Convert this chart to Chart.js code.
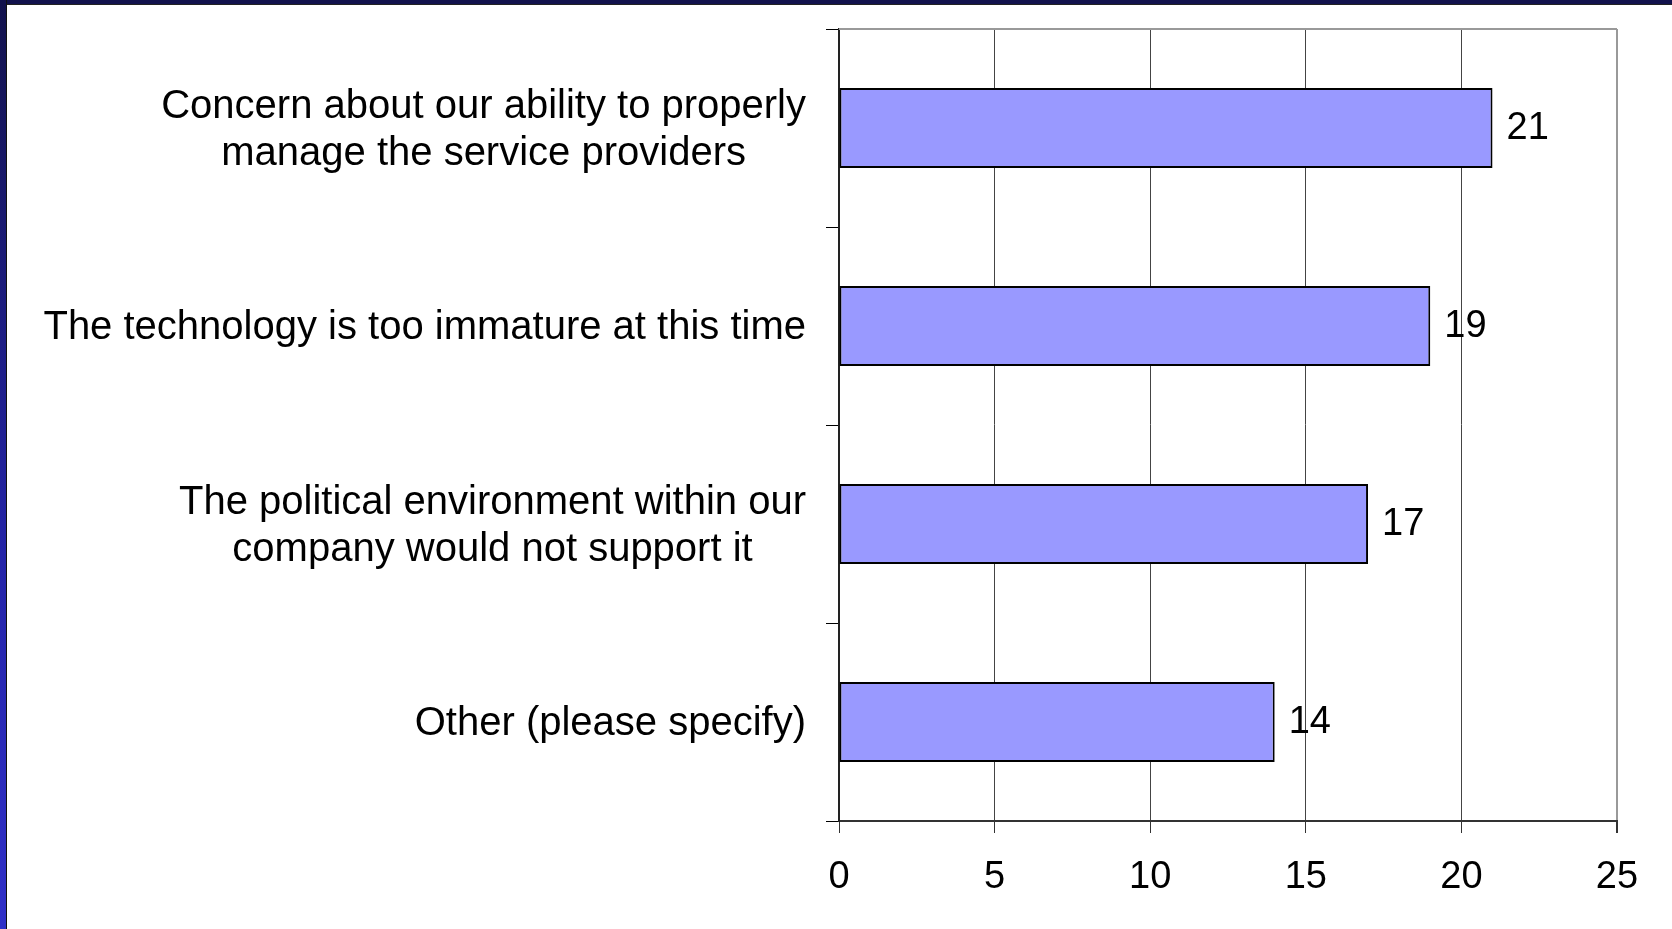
<!DOCTYPE html>
<html>
<head>
<meta charset="utf-8">
<script src="https://cdn.jsdelivr.net/npm/chart.js@4.4.1/dist/chart.umd.min.js"></script>
<style>
  html, body { margin: 0; padding: 0; background: #fff; overflow: hidden; }
  #wrap { position: relative; width: 1672px; height: 929px; }
  #chart { position: absolute; left: 0; top: 0; }
  .top-band { position: absolute; left: 0; top: 0; width: 1672px; height: 4px; background: #12124c; border-bottom: 1px solid #222; z-index: 2; }
  .left-band { position: absolute; left: 0; top: 0; width: 6px; height: 929px; background: linear-gradient(#12124c, #2424a8 60%, #3030c8); border-right: 1px solid #111; z-index: 2; }
</style>
</head>
<body>
<div id="wrap">
  <canvas id="chart" width="1672" height="929"></canvas>
  <div class="top-band"></div>
  <div class="left-band"></div>
</div>
<script>
const categories = [
  ['Concern about our ability to properly', 'manage the service providers'],
  ['The technology is too immature at this time'],
  ['The political environment within our', 'company would not support it'],
  ['Other (please specify)']
];
const counts = [21, 19, 17, 14];
const xTicks = [0, 5, 10, 15, 20, 25];

const FONT = "'Liberation Sans', Arial, sans-serif";
const FONT_SIZE = 38;
const CAT_FONT_SIZE = 40;

// draws the multi-line category labels (lines centered, block right aligned),
// the value labels and the top frame line
const labelPlugin = {
  id: 'labels',
  beforeDatasetsDraw(chart) {
    const { ctx, chartArea } = chart;
    ctx.save();
    ctx.strokeStyle = '#999';
    ctx.lineWidth = 2;
    ctx.beginPath();
    ctx.moveTo(chartArea.left, chartArea.top);
    ctx.lineTo(chartArea.right, chartArea.top);
    ctx.stroke();
    ctx.restore();
  },
  afterDatasetsDraw(chart) {
    const { ctx } = chart;
    const yScale = chart.scales.y;
    const meta = chart.getDatasetMeta(0);
    ctx.save();
    ctx.fillStyle = '#000';
    ctx.textBaseline = 'middle';

    ctx.font = CAT_FONT_SIZE + 'px ' + FONT;
    const blockRight = yScale.right - 33;
    const lineH = 47;
    categories.forEach((lines, i) => {
      const cy = yScale.getPixelForValue(i) + 2;
      const w = Math.max(...lines.map(l => ctx.measureText(l).width));
      const cx = blockRight - w / 2;
      ctx.textAlign = 'center';
      lines.forEach((l, j) => {
        ctx.fillText(l, cx, cy + (j - (lines.length - 1) / 2) * lineH);
      });
    });

    ctx.font = FONT_SIZE + 'px ' + FONT;
    ctx.textAlign = 'left';
    meta.data.forEach((bar, i) => {
      ctx.fillText(String(counts[i]), bar.x + 14, bar.y + 1);
    });
    ctx.restore();
  }
};

new Chart(document.getElementById('chart'), {
  type: 'bar',
  data: {
    labels: categories,
    datasets: [{
      data: counts,
      backgroundColor: '#9999ff',
      borderColor: '#000',
      borderWidth: 2,
      borderSkipped: false,
      categoryPercentage: 1,
      barPercentage: 0.404
    }]
  },
  options: {
    indexAxis: 'y',
    responsive: false,
    animation: false,
    layout: { padding: { top: 29, right: 55, left: 0, bottom: 0 } },
    plugins: {
      legend: { display: false },
      tooltip: { enabled: false }
    },
    scales: {
      x: {
        min: 0,
        max: 25,
        afterBuildTicks(scale) {
          scale.ticks = xTicks.map(v => ({ value: v }));
        },
        afterFit(scale) { scale.height = 108; },
        grid: {
          color: ctx => (ctx.tick && ctx.tick.value === 25) ? '#999' : '#444',
          lineWidth: ctx => (ctx.tick && ctx.tick.value === 25) ? 2 : 1,
          tickLength: 12,
          tickColor: '#333'
        },
        border: { color: '#333', width: 2 },
        ticks: {
          color: '#000',
          padding: 22,
          font: { family: FONT, size: FONT_SIZE }
        }
      },
      y: {
        afterFit(scale) { scale.width = 839; },
        grid: {
          drawOnChartArea: false,
          drawTicks: true,
          tickLength: 13,
          tickColor: '#000'
        },
        border: { color: '#222', width: 2 },
        ticks: {
          color: 'rgba(0,0,0,0)',
          font: { family: FONT, size: FONT_SIZE }
        }
      }
    }
  },
  plugins: [labelPlugin]
});
</script>
</body>
</html>
